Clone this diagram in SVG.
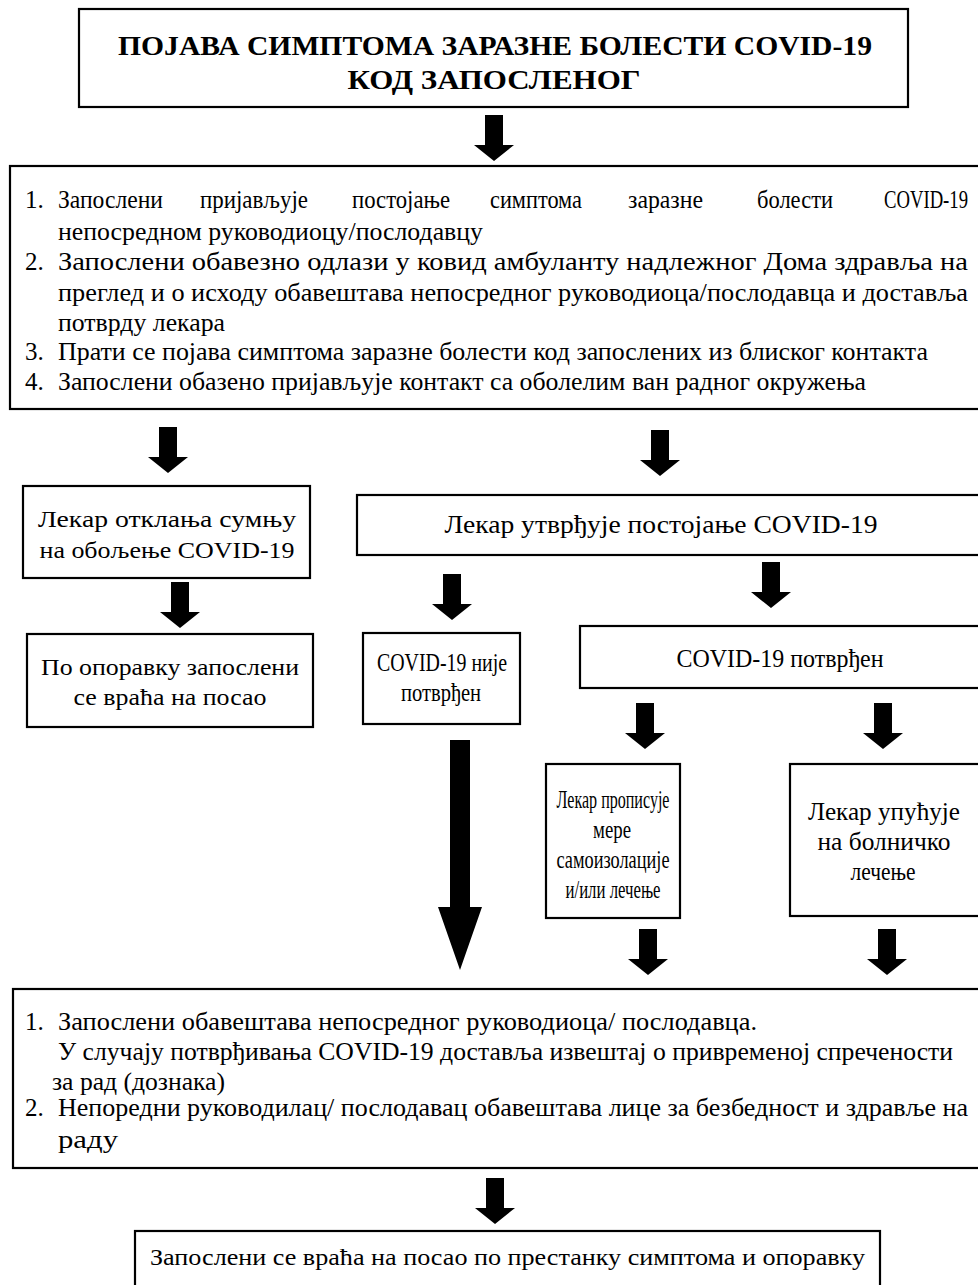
<svg xmlns="http://www.w3.org/2000/svg" width="978" height="1285" viewBox="0 0 978 1285">
<style>
.box{fill:#fff;stroke:#000;stroke-width:2.2}
.t{font-family:"Liberation Serif","Times New Roman",serif;font-size:25px;fill:#000}
.c{text-anchor:middle}
.e{text-anchor:end}
.b{font-weight:bold;font-size:28px}
.lg{font-size:24px}
.m{font-size:24px}
.arr{fill:#000}
</style>
<rect width="978" height="1285" fill="#fff"/>
<g id="connectors">
<path class="arr" d="M485,115H503V145H514L494,161L474,145H485Z"/>
<path class="arr" d="M159,427H177V457H188L168,473L148,457H159Z"/>
<path class="arr" d="M651,430H669V460H680L660,476L640,460H651Z"/>
<path class="arr" d="M171,582H189V612H200L180,628L160,612H171Z"/>
<path class="arr" d="M443,574H461V604H472L452,620L432,604H443Z"/>
<path class="arr" d="M762,562H780V592H791L771,608L751,592H762Z"/>
<path class="arr" d="M636,703H654V733H665L645,749L625,733H636Z"/>
<path class="arr" d="M874,703H892V733H903L883,749L863,733H874Z"/>
<path class="arr" d="M450,740H470V907H482L460,970L438,907H450Z"/>
<path class="arr" d="M639,929H657V959H668L648,975L628,959H639Z"/>
<path class="arr" d="M878,929H896V959H907L887,975L867,959H878Z"/>
<path class="arr" d="M486,1178H504V1208H515L495,1224L475,1208H486Z"/>
</g>
<g id="n-title">
<rect class="box" x="79" y="9" width="829" height="98"/>
<text class="t b c" x="495" y="55" textLength="754" lengthAdjust="spacingAndGlyphs">ПОЈАВА СИМПТОМА ЗАРАЗНЕ БОЛЕСТИ COVID-19</text>
<text class="t b c" x="494" y="89" textLength="293" lengthAdjust="spacingAndGlyphs">КОД ЗАПОСЛЕНОГ</text>
</g>
<g id="n-steps">
<rect class="box" x="10" y="166" width="980" height="243"/>
<text class="t" x="25" y="208">1.</text>
<text class="t" x="58" y="208" textLength="105" lengthAdjust="spacingAndGlyphs">Запослени</text>
<text class="t" x="200" y="208" textLength="108" lengthAdjust="spacingAndGlyphs">пријављује</text>
<text class="t" x="352" y="208" textLength="98" lengthAdjust="spacingAndGlyphs">постојање</text>
<text class="t" x="490" y="208" textLength="92" lengthAdjust="spacingAndGlyphs">симптома</text>
<text class="t" x="628" y="208" textLength="75" lengthAdjust="spacingAndGlyphs">заразне</text>
<text class="t" x="757" y="208" textLength="76" lengthAdjust="spacingAndGlyphs">болести</text>
<text class="t e" x="968" y="208" textLength="84" lengthAdjust="spacingAndGlyphs">COVID-19</text>
<text class="t" x="58" y="240" textLength="425" lengthAdjust="spacingAndGlyphs">непосредном руководиоцу/послодавцу</text>
<text class="t" x="25" y="270">2.</text>
<text class="t" x="58" y="270" textLength="910" lengthAdjust="spacingAndGlyphs">Запослени обавезно одлази у ковид амбуланту надлежног Дома здравља на</text>
<text class="t" x="58" y="301" textLength="910" lengthAdjust="spacingAndGlyphs">преглед и о исходу обавештава непосредног руководиоца/послодавца и доставља</text>
<text class="t" x="58" y="331" textLength="167" lengthAdjust="spacingAndGlyphs">потврду лекара</text>
<text class="t" x="25" y="360">3.</text>
<text class="t" x="58" y="360" textLength="870" lengthAdjust="spacingAndGlyphs">Прати се појава симптома заразне болести код запослених из блиског контакта</text>
<text class="t" x="25" y="390">4.</text>
<text class="t" x="58" y="390" textLength="808" lengthAdjust="spacingAndGlyphs">Запослени обазено пријављује контакт са оболелим ван радног окружења</text>
</g>
<g id="n-dismiss">
<rect class="box" x="23" y="486" width="287" height="92"/>
<text class="t lg c" x="167" y="527" textLength="258" lengthAdjust="spacingAndGlyphs">Лекар отклања сумњу</text>
<text class="t lg c" x="167" y="558" textLength="255" lengthAdjust="spacingAndGlyphs">на обољење COVID-19</text>
</g>
<g id="n-determine">
<rect class="box" x="357" y="495" width="640" height="60"/>
<text class="t c" x="661" y="533" textLength="433" lengthAdjust="spacingAndGlyphs">Лекар утврђује постојање COVID-19</text>
</g>
<g id="n-recover">
<rect class="box" x="27" y="634" width="286" height="93"/>
<text class="t lg c" x="170" y="675" textLength="258" lengthAdjust="spacingAndGlyphs">По опоравку запослени</text>
<text class="t lg c" x="170" y="705" textLength="193" lengthAdjust="spacingAndGlyphs">се враћа на посао</text>
</g>
<g id="n-notconfirmed">
<rect class="box" x="363" y="633" width="157" height="91"/>
<text class="t c" x="442" y="671" textLength="130" lengthAdjust="spacingAndGlyphs">COVID-19 није</text>
<text class="t c" x="441" y="701" textLength="80" lengthAdjust="spacingAndGlyphs">потврђен</text>
</g>
<g id="n-confirmed">
<rect class="box" x="580" y="626" width="420" height="62"/>
<text class="t c" x="780" y="667" textLength="207" lengthAdjust="spacingAndGlyphs">COVID-19 потврђен</text>
</g>
<g id="n-isolation">
<rect class="box" x="546" y="764" width="134" height="154"/>
<text class="t c" x="613" y="808" textLength="113" lengthAdjust="spacingAndGlyphs">Лекар прописује</text>
<text class="t c" x="612" y="838" textLength="38" lengthAdjust="spacingAndGlyphs">мере</text>
<text class="t c" x="613" y="868" textLength="113" lengthAdjust="spacingAndGlyphs">самоизолације</text>
<text class="t c" x="613" y="898" textLength="95" lengthAdjust="spacingAndGlyphs">и/или лечење</text>
</g>
<g id="n-hospital">
<rect class="box" x="790" y="764" width="210" height="152"/>
<text class="t c" x="884" y="820" textLength="152" lengthAdjust="spacingAndGlyphs">Лекар упућује</text>
<text class="t c" x="884" y="850" textLength="133" lengthAdjust="spacingAndGlyphs">на болничко</text>
<text class="t c" x="883" y="880" textLength="65" lengthAdjust="spacingAndGlyphs">лечење</text>
</g>
<g id="n-notify">
<rect class="box" x="13" y="989" width="990" height="179"/>
<text class="t" x="25" y="1030">1.</text>
<text class="t" x="58" y="1030" textLength="699" lengthAdjust="spacingAndGlyphs">Запослени обавештава непосредног руководиоца/ послодавца.</text>
<text class="t" x="58" y="1060" textLength="895" lengthAdjust="spacingAndGlyphs">У случају потврђивања COVID-19 доставља извештај о привременој спречености</text>
<text class="t" x="52" y="1090" textLength="173" lengthAdjust="spacingAndGlyphs">за рад (дознака)</text>
<text class="t" x="25" y="1116">2.</text>
<text class="t" x="58" y="1116" textLength="910" lengthAdjust="spacingAndGlyphs">Непоредни руководилац/ послодавац обавештава лице за безбедност и здравље на</text>
<text class="t" x="58" y="1148" textLength="60" lengthAdjust="spacingAndGlyphs">раду</text>
</g>
<g id="n-return">
<rect class="box" x="135" y="1231" width="745" height="70"/>
<text class="t m" x="150" y="1265" textLength="715" lengthAdjust="spacingAndGlyphs">Запослени се враћа на посао по престанку симптома и опоравку</text>
</g>
</svg>
